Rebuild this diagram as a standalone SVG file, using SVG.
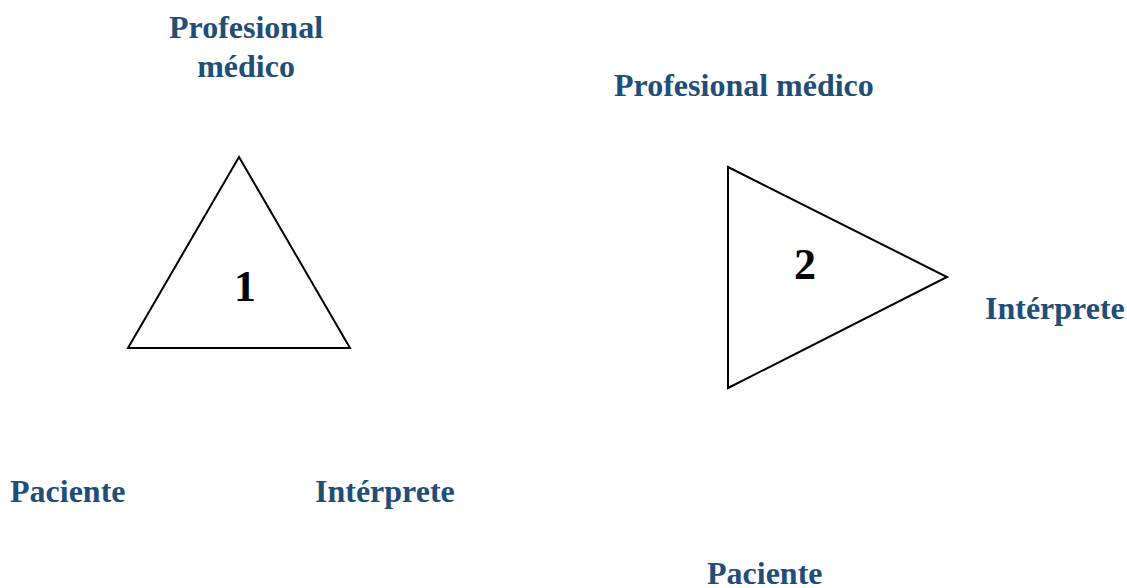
<svg xmlns="http://www.w3.org/2000/svg" width="1127" height="588" viewBox="0 0 1127 588">
<style>
.lbl{font-family:"Liberation Serif","Times New Roman",serif;font-weight:bold;font-size:32px;fill:#1F4E79}
.num{font-family:"Liberation Serif","Times New Roman",serif;font-weight:bold;font-size:44px;fill:#000}
.tri{fill:#fff;stroke:#000;stroke-width:2}
</style>
<rect width="1127" height="588" fill="#fff"/>
<g id="triangle1">
<polygon class="tri" points="239,157 128,348 350,348"/>
<text class="num" x="245" y="301" text-anchor="middle">1</text>
</g>
<g id="triangle2">
<polygon class="tri" points="728,167 947,277 728,388"/>
<text class="num" x="805" y="279" text-anchor="middle">2</text>
</g>
<g id="t1-profesional">
<text class="lbl" x="246" y="38" text-anchor="middle">Profesional</text>
<text class="lbl" x="246" y="77" text-anchor="middle">médico</text>
</g>
<g id="t1-paciente"><text class="lbl" x="10" y="502">Paciente</text></g>
<g id="t1-interprete"><text class="lbl" x="315" y="502">Intérprete</text></g>
<g id="t2-profesional"><text class="lbl" x="614" y="96">Profesional médico</text></g>
<g id="t2-interprete"><text class="lbl" x="985" y="319">Intérprete</text></g>
<g id="t2-paciente"><text class="lbl" x="707" y="584">Paciente</text></g>
<g id="connectors"></g>
</svg>
